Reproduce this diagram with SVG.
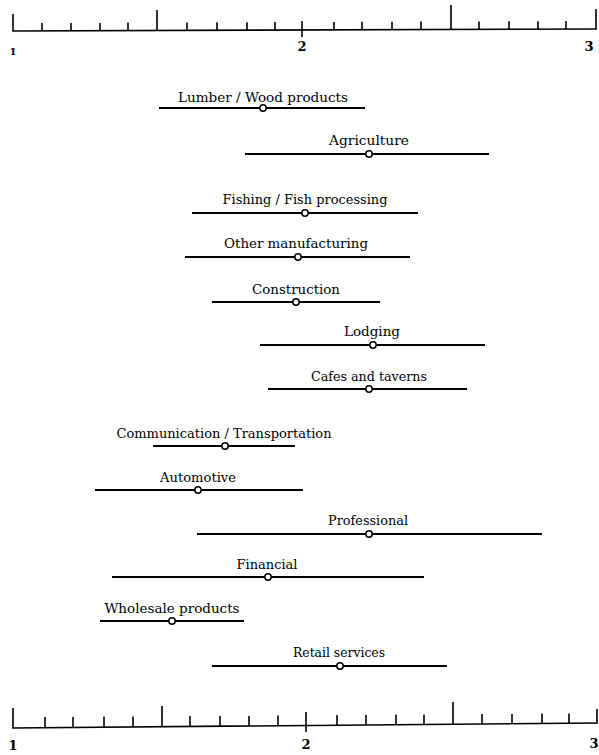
<svg xmlns="http://www.w3.org/2000/svg" width="599" height="755" viewBox="0 0 599 755">
<style>
.bg{fill:#fff}
.axis{stroke:#000;stroke-width:1.6;fill:none;stroke-linecap:square}
.tick{stroke:#000;stroke-width:1.6;fill:none}
.num{font-family:"DejaVu Serif","Liberation Serif",serif;font-size:13px;font-weight:bold;fill:#000;text-anchor:middle}
.bar{stroke:#000;stroke-width:2;fill:none}
.pt{fill:#fff;stroke:#000;stroke-width:1.5}
.lbl{font-family:"DejaVu Serif","Liberation Serif",serif;font-size:12px;fill:#000;text-anchor:middle}
</style>
<rect class="bg" width="599" height="755"/>
<g id="axis-top">
<path class="axis" d="M13 31 L596 29"/>
<path class="tick" d="M13 14V31 M42 23V31 M71 23V30.8 M100 23V30.7 M128 22.6V30.6 M157 10V30.5 M187 22.4V30.4 M217 22.3V30.3 M247 22.2V30.2 M275 22V30.1 M302 21V37 M334 21.9V29.9 M362 21.8V29.8 M392 21.7V29.7 M421 21.6V29.6 M451 5V29.5 M479 21.4V29.4 M509 21.3V29.3 M538 21.2V29.2 M566 21.1V29.1 M596 9V29"/>
<text class="num" x="13" y="55" style="font-size:10px">1</text>
<text class="num" x="302" y="51">2</text>
<text class="num" x="589" y="51">3</text>
</g>
<g id="axis-bottom">
<path class="axis" d="M13 728 L597 723"/>
<path class="tick" d="M13 708V728 M45 717V727.7 M73 717V727.5 M104 716.5V727.2 M133 716.5V727 M162 706V726.7 M190 716V726.5 M220 716V726.2 M249 716V726 M278 715.5V725.7 M306 712V732 M337 715V725.2 M366 715V725 M396 714.5V724.7 M424 714.5V724.5 M453 702V724.2 M482 714V724 M512 714V723.7 M542 713.5V723.5 M569 713.5V723.2 M597 709V723"/>
<text class="num" x="13" y="750">1</text>
<text class="num" x="306" y="749">2</text>
<text class="num" x="594" y="748">3</text>
</g>
<g id="lumber">
<text class="lbl" x="263" y="102" textLength="170" lengthAdjust="spacingAndGlyphs">Lumber / Wood products</text>
<line class="bar" x1="159" y1="108" x2="365" y2="108"/>
<circle class="pt" cx="263" cy="108" r="3.2"/>
</g>
<g id="agriculture">
<text class="lbl" x="369" y="145" textLength="80" lengthAdjust="spacingAndGlyphs">Agriculture</text>
<line class="bar" x1="245" y1="154" x2="489" y2="154"/>
<circle class="pt" cx="369" cy="154" r="3.2"/>
</g>
<g id="fishing">
<text class="lbl" x="305" y="204" textLength="165" lengthAdjust="spacingAndGlyphs">Fishing / Fish processing</text>
<line class="bar" x1="192" y1="213" x2="418" y2="213"/>
<circle class="pt" cx="305" cy="213" r="3.2"/>
</g>
<g id="other-manufacturing">
<text class="lbl" x="296" y="248" textLength="144" lengthAdjust="spacingAndGlyphs">Other manufacturing</text>
<line class="bar" x1="185" y1="257" x2="410" y2="257"/>
<circle class="pt" cx="298" cy="257" r="3.2"/>
</g>
<g id="construction">
<text class="lbl" x="296" y="294" textLength="88" lengthAdjust="spacingAndGlyphs">Construction</text>
<line class="bar" x1="212" y1="302" x2="380" y2="302"/>
<circle class="pt" cx="296" cy="302" r="3.2"/>
</g>
<g id="lodging">
<text class="lbl" x="372" y="336" textLength="56" lengthAdjust="spacingAndGlyphs">Lodging</text>
<line class="bar" x1="260" y1="345" x2="485" y2="345"/>
<circle class="pt" cx="373" cy="345" r="3.2"/>
</g>
<g id="cafes">
<text class="lbl" x="369" y="381" textLength="116" lengthAdjust="spacingAndGlyphs">Cafes and taverns</text>
<line class="bar" x1="268" y1="389" x2="467" y2="389"/>
<circle class="pt" cx="369" cy="389" r="3.2"/>
</g>
<g id="communication">
<text class="lbl" x="224" y="438" textLength="215" lengthAdjust="spacingAndGlyphs">Communication / Transportation</text>
<line class="bar" x1="153" y1="446" x2="295" y2="446"/>
<circle class="pt" cx="225" cy="446" r="3.2"/>
</g>
<g id="automotive">
<text class="lbl" x="198" y="482" textLength="76" lengthAdjust="spacingAndGlyphs">Automotive</text>
<line class="bar" x1="95" y1="490" x2="303" y2="490"/>
<circle class="pt" cx="198" cy="490" r="3.2"/>
</g>
<g id="professional">
<text class="lbl" x="368" y="525" textLength="80" lengthAdjust="spacingAndGlyphs">Professional</text>
<line class="bar" x1="197" y1="534" x2="542" y2="534"/>
<circle class="pt" cx="369" cy="534" r="3.2"/>
</g>
<g id="financial">
<text class="lbl" x="267" y="569" textLength="61" lengthAdjust="spacingAndGlyphs">Financial</text>
<line class="bar" x1="112" y1="577" x2="424" y2="577"/>
<circle class="pt" cx="268" cy="577" r="3.2"/>
</g>
<g id="wholesale">
<text class="lbl" x="172" y="613" textLength="135" lengthAdjust="spacingAndGlyphs">Wholesale products</text>
<line class="bar" x1="100" y1="621" x2="244" y2="621"/>
<circle class="pt" cx="172" cy="621" r="3.2"/>
</g>
<g id="retail">
<text class="lbl" x="339" y="657" textLength="92" lengthAdjust="spacingAndGlyphs">Retail services</text>
<line class="bar" x1="212" y1="666" x2="447" y2="666"/>
<circle class="pt" cx="340" cy="666" r="3.2"/>
</g>
<g id="connectors"/>
</svg>
